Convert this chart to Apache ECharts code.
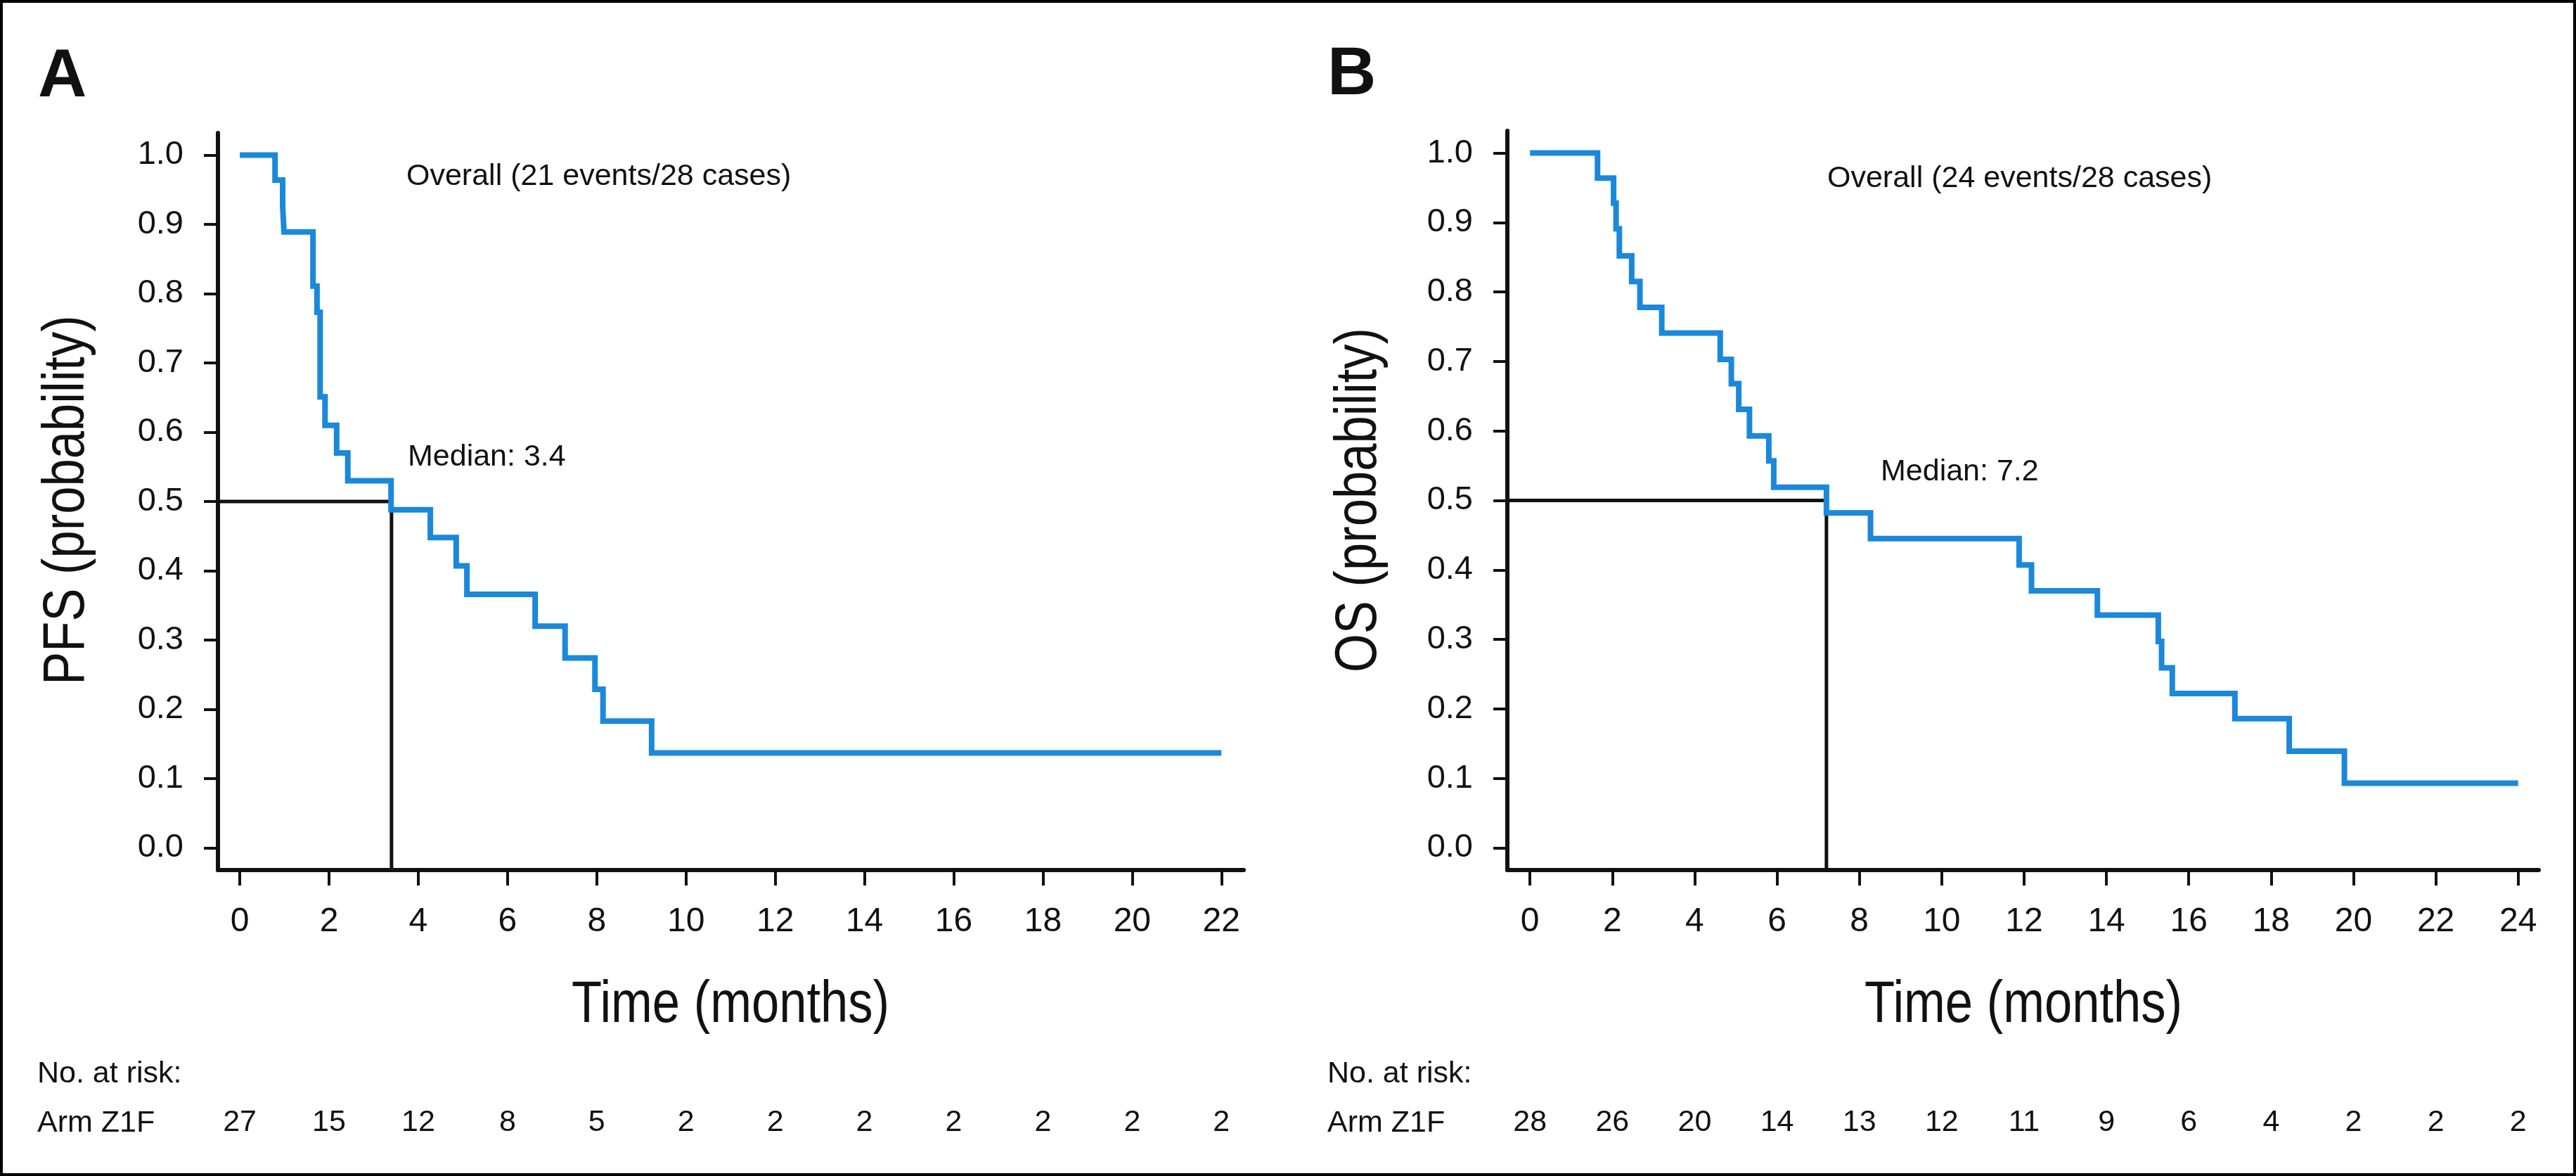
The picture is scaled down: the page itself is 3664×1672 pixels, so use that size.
<!DOCTYPE html>
<html>
<head>
<meta charset="utf-8">
<script src="https://cdn.jsdelivr.net/npm/echarts@6/dist/echarts.min.js"></script>
<style>
  html, body { margin: 0; padding: 0; background: #fff; }
  #chart { width: 3664px; height: 1672px; }
</style>
</head>
<body>
<div id="chart"></div>
<script>
// A: PFS, Kaplan-Meier steps (month of drop, survival after drop)
const pfsMonths = [0, 0.79, 0.96, 0.99, 1.64, 1.73, 1.80, 1.91, 2.17, 2.42, 3.39, 4.27, 4.85, 5.09, 6.62, 7.29, 7.96, 8.14, 9.23, 22];
const pfsSurv = [1.0, 0.964, 0.927, 0.889, 0.811, 0.773, 0.651, 0.610, 0.570, 0.530, 0.488, 0.448, 0.407, 0.366, 0.320, 0.274, 0.229, 0.183, 0.137, 0.137];
const pfsMedian = 3.4;
const pfsTicks = [0, 2, 4, 6, 8, 10, 12, 14, 16, 18, 20, 22];
const pfsAtRisk = [27, 15, 12, 8, 5, 2, 2, 2, 2, 2, 2, 2];

// B: OS
const osMonths = [0, 1.64, 2.03, 2.09, 2.17, 2.47, 2.67, 3.20, 4.62, 4.89, 5.07, 5.33, 5.80, 5.92, 7.20, 8.27, 11.88, 12.18, 13.78, 15.26, 15.34, 15.60, 17.12, 18.44, 19.78, 24];
const osSurv = [1.0, 0.964, 0.928, 0.891, 0.852, 0.815, 0.778, 0.741, 0.703, 0.668, 0.631, 0.593, 0.557, 0.519, 0.482, 0.445, 0.407, 0.370, 0.335, 0.297, 0.259, 0.222, 0.186, 0.139, 0.093, 0.093];
const osMedian = 7.2;
const osTicks = [0, 2, 4, 6, 8, 10, 12, 14, 16, 18, 20, 22, 24];
const osAtRisk = [28, 26, 20, 14, 13, 12, 11, 9, 6, 4, 2, 2, 2];

const yTicks = [0, 0.1, 0.2, 0.3, 0.4, 0.5, 0.6, 0.7, 0.8, 0.9, 1.0];

const blue = '#1b88da';
const ink = '#111';
const sans = '"Liberation Sans", Arial, Helvetica, sans-serif';

// axis ranges (axis lines run a bit past the data, like the original)
const xRangeA = [-0.49, 22.5];
const xRangeB = [-0.55, 24.5];
const yRange = [-0.032, 1.032];

function steps(t, s) {
  return t.map((x, i) => [x, s[i]]);
}

function mainX(gridIndex, range, ticks) {
  return {
    gridIndex: gridIndex,
    type: 'value',
    min: range[0],
    max: range[1],
    position: 'bottom',
    axisLine: { show: true, onZero: false, lineStyle: { color: ink, width: 6 } },
    axisTick: { show: true, customValues: ticks, length: 22, lineStyle: { color: ink, width: 4 } },
    axisLabel: { customValues: ticks, margin: 50, fontSize: 48, fontFamily: sans, color: ink },
    splitLine: { show: false }
  };
}

// number at risk row, drawn as labels of a hidden axis under each plot
function riskX(gridIndex, range, ticks, counts) {
  return {
    gridIndex: gridIndex,
    type: 'value',
    min: range[0],
    max: range[1],
    position: 'bottom',
    offset: 330,
    axisLine: { show: false },
    axisTick: { show: false },
    splitLine: { show: false },
    axisLabel: {
      customValues: ticks,
      margin: 8,
      fontSize: 43,
      fontFamily: sans,
      color: ink,
      formatter: function (v) {
        return String(counts[Math.round(v / 2)]);
      }
    }
  };
}

function mainY(gridIndex) {
  return {
    gridIndex: gridIndex,
    type: 'value',
    min: yRange[0],
    max: yRange[1],
    axisLine: { show: true, onZero: false, lineStyle: { color: ink, width: 6 } },
    axisTick: { show: true, customValues: yTicks, length: 20, lineStyle: { color: ink, width: 4 } },
    axisLabel: {
      customValues: yTicks,
      margin: 49,
      fontSize: 47,
      fontFamily: sans,
      color: ink,
      formatter: function (v) {
        return v.toFixed(1);
      }
    },
    splitLine: { show: false }
  };
}

function text(x, y, str, size, weight) {
  return {
    type: 'text',
    x: x,
    y: y,
    style: {
      text: str,
      fontSize: size,
      fontFamily: sans,
      fontWeight: weight || 'normal',
      fill: ink,
      align: 'left',
      verticalAlign: 'middle'
    }
  };
}

// axis titles are set in a condensed face in the original: squeeze a bit
function title(x, y, str, vertical) {
  return {
    type: 'text',
    x: x,
    y: y,
    rotation: vertical ? Math.PI / 2 : 0,
    scaleX: 0.84,
    style: {
      text: str,
      fontSize: 84,
      fontFamily: sans,
      fill: ink,
      align: 'center',
      verticalAlign: 'middle'
    }
  };
}

const chart = echarts.init(document.getElementById('chart'));

const option = {
  animation: false,
  backgroundColor: '#fff',
  grid: [
    { left: 310, top: 189, width: 1459, height: 1048, outerBoundsMode: 'none' },
    { left: 2144, top: 186, width: 1467, height: 1051, outerBoundsMode: 'none' }
  ],
  xAxis: [
    mainX(0, xRangeA, pfsTicks),
    riskX(0, xRangeA, pfsTicks, pfsAtRisk),
    mainX(1, xRangeB, osTicks),
    riskX(1, xRangeB, osTicks, osAtRisk)
  ],
  yAxis: [
    mainY(0),
    mainY(1)
  ],
  series: [
    {
      type: 'line',
      xAxisIndex: 0,
      yAxisIndex: 0,
      data: [[xRangeA[0], 0.5], [pfsMedian, 0.5], [pfsMedian, yRange[0]]],
      symbol: 'none',
      lineStyle: { color: ink, width: 5 },
      z: 2,
      silent: true
    },
    {
      type: 'line',
      xAxisIndex: 0,
      yAxisIndex: 0,
      data: steps(pfsMonths, pfsSurv),
      step: 'end',
      symbol: 'none',
      lineStyle: { color: blue, width: 8, cap: 'butt', join: 'miter' },
      z: 3,
      silent: true
    },
    {
      type: 'line',
      xAxisIndex: 2,
      yAxisIndex: 1,
      data: [[xRangeB[0], 0.5], [osMedian, 0.5], [osMedian, yRange[0]]],
      symbol: 'none',
      lineStyle: { color: ink, width: 5 },
      z: 2,
      silent: true
    },
    {
      type: 'line',
      xAxisIndex: 2,
      yAxisIndex: 1,
      data: steps(osMonths, osSurv),
      step: 'end',
      symbol: 'none',
      lineStyle: { color: blue, width: 8, cap: 'butt', join: 'miter' },
      z: 3,
      silent: true
    }
  ],
  graphic: [
    {
      type: 'rect',
      shape: { x: 2, y: 2, width: 3660, height: 1668 },
      style: { fill: 'none', stroke: '#000', lineWidth: 4 },
      silent: true
    },
    text(54, 111, 'A', 96, 'bold'),
    text(1888, 108, 'B', 96, 'bold'),
    title(96, 711, 'PFS (probability)', true),
    title(1934, 711, 'OS (probability)', true),
    title(1039, 1430, 'Time (months)', false),
    title(2878, 1430, 'Time (months)', false),
    text(578, 251, 'Overall (21 events/28 cases)', 43),
    text(2599, 254, 'Overall (24 events/28 cases)', 43),
    text(580, 650, 'Median: 3.4', 43),
    text(2675, 671, 'Median: 7.2', 43),
    text(53, 1527, 'No. at risk:', 43),
    text(53, 1597, 'Arm Z1F', 43),
    text(1888, 1527, 'No. at risk:', 43),
    text(1888, 1597, 'Arm Z1F', 43)
  ]
};

chart.setOption(option);
</script>
</body>
</html>
